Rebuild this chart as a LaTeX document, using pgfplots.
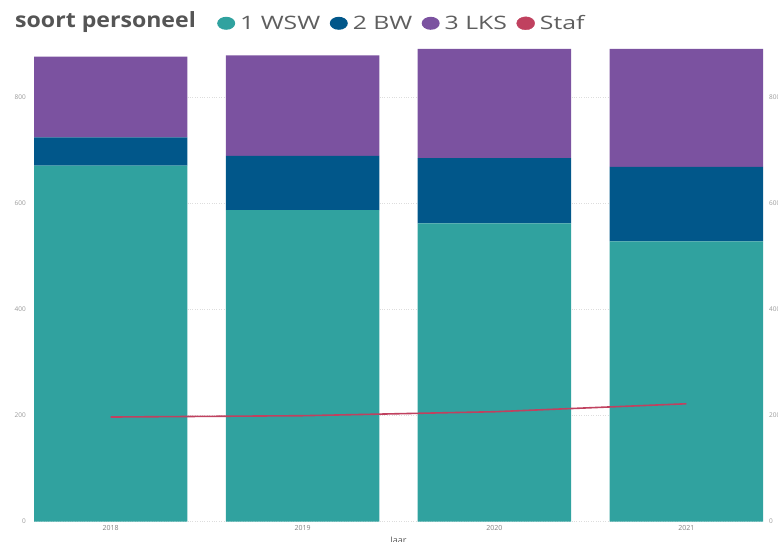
\documentclass[border=0pt]{standalone}
\usepackage{pgfplots}
\pgfplotsset{compat=1.18}
\usepackage{fontspec}
\setmainfont{Open Sans}
\newfontfamily\legfont[FakeStretch=1.34]{Open Sans}
\newfontfamily\titfont[FakeStretch=1.10]{Open Sans}
\definecolor{cWSW}{HTML}{30A29F}
\definecolor{cBW}{HTML}{01578A}
\definecolor{cLKS}{HTML}{7B52A0}
\definecolor{cStaf}{HTML}{C0415F}
\definecolor{tickgray}{HTML}{9A9A9A}
\definecolor{gridgray}{HTML}{DDDDDD}
\definecolor{titlegray}{HTML}{555555}
\definecolor{leggray}{HTML}{5E5E5E}
\pgfplotsset{
  base/.style={
    at={(34pt,19.5pt)}, anchor=south west, scale only axis,
    width=729pt, height=472.5pt,
    xmin=-0.4, xmax=3.4, ymin=0, ymax=891,
    axis line style={draw=none},
    major tick length=0pt,
    ytick={0,200,400,600,800},
    yticklabel style={font=\fontsize{6.5}{7}\selectfont, text=tickgray, inner sep=0pt},
    /pgf/number format/assume math mode=true,
    clip=false,
  }
}
\begin{document}
\begin{tikzpicture}
\begin{axis}[base,
  ybar stacked, bar width=0.8,
  xtick={0,1,2,3}, xticklabels={2018,2019,2020,2021},
  xticklabel style={font=\fontsize{7}{7}\selectfont, text=gray, inner sep=0pt, anchor=north, yshift=-4pt},
  yticklabel style={anchor=east, xshift=-8pt},
  ymajorgrids, grid style={gridgray, dotted, line width=0.6pt},
  xlabel={Jaar},
  xlabel style={font=\fontsize{9}{9}\selectfont, text=titlegray, anchor=north, at={(axis description cs:0.5,0)}, yshift=-15pt, inner sep=0pt},
  legend style={draw=none, fill=none, font=\legfont\fontsize{18.5}{18.5}\selectfont, text=leggray,
    legend columns=-1, at={(axis description cs:0.251,1.0544)}, anchor=west, inner sep=0pt,
    nodes={inner sep=0.5pt},
    /tikz/every odd column/.append style={column sep=4.5pt},
    /tikz/every even column/.append style={column sep=9pt}},
]
\addplot[fill=cWSW, draw=none, legend image code/.code={\fill[cWSW] (0,0) ellipse (9pt and 6.5pt);}] coordinates {(0,671) (1,587) (2,562) (3,528)};
\addlegendentry{1 WSW}
\addplot[fill=cBW, draw=none, legend image code/.code={\fill[cBW] (0,0) ellipse (9pt and 6.5pt);}] coordinates {(0,53.5) (1,102.6) (2,123.3) (3,140.5)};
\addlegendentry{2 BW}
\addplot[fill=cLKS, draw=none, legend image code/.code={\fill[cLKS] (0,0) ellipse (9pt and 6.5pt);}] coordinates {(0,152) (1,189.6) (2,205.7) (3,222.5)};
\addlegendentry{3 LKS}
\addlegendimage{legend image code/.code={\fill[cStaf] (0,0) ellipse (9pt and 6.5pt);}}
\addlegendentry{Staf}
\end{axis}
\begin{axis}[base,
  axis y line*=right, hide x axis,
  yticklabel style={anchor=west, xshift=6pt},
]
\addplot[cStaf, line width=1.6pt, mark=none] coordinates {(0,197) (1,199.5) (2,207) (3,222)};
\end{axis}
\node[anchor=west, inner sep=0pt, font=\titfont\fontsize{21}{21}\selectfont\bfseries, text=titlegray] at (15pt,518.5pt) {soort personeel};
\pgfresetboundingbox
\useasboundingbox (0,0) rectangle (778pt,541pt);
\end{tikzpicture}
\end{document}
